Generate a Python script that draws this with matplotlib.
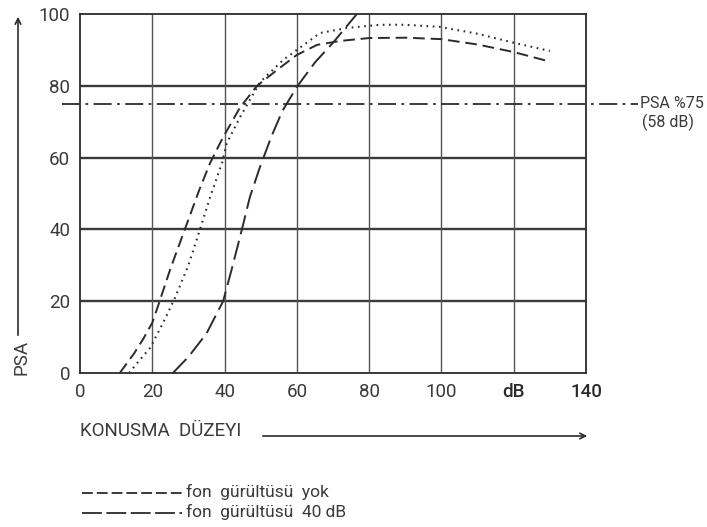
import matplotlib
matplotlib.use("Agg")
import matplotlib.pyplot as plt
from matplotlib.lines import Line2D

plt.rcParams['font.family'] = ['Roboto', 'DejaVu Sans']

# speech level (dB) vs PSA (%)
x_yok = [11, 15, 17.5, 20, 21.7, 25, 29, 33, 36, 39.6, 44.3, 49, 54.5, 60, 65.6, 72, 80, 90, 100, 110, 120, 129]
y_yok = [0, 5.5, 9.5, 14, 19, 29, 40, 51, 58.5, 65.7, 74, 80, 84.4, 88.6, 91.4, 92.5, 93.3, 93.4, 93, 91.5, 89.4, 87]

x_dot = [13.6, 16, 19.4, 20.8, 23.5, 26.3, 30, 33.2, 36, 39.3, 40.6, 44.3, 49.8, 56.2, 60, 66.4, 73.8, 83, 90, 99.6, 110, 120, 130]
y_dot = [0, 3, 7, 9.7, 15, 21, 30, 40, 49, 58.5, 64, 71.3, 81, 87.2, 90, 94.7, 96.1, 97, 97, 96.4, 94.5, 92, 89.7]

x_40 = [25.7, 30, 35, 39.6, 42, 44.8, 47, 49.8, 53, 56, 60, 65, 70, 76.6]
y_40 = [0, 4.5, 11, 20, 29, 40, 49, 57.4, 66, 73, 79.7, 86.5, 92, 100]

psa_level = 75
xticks = [0, 20, 40, 60, 80, 100, 120, 140]
xticklabels = ['0', '20', '40', '60', '80', '100', 'dB', '140']
yticks = [0, 20, 40, 60, 80, 100]

ink = '#2b2b2b'
txt = '#3a3a3a'
W, H = 707, 527

def fx(px):
    return px / W

def fy(py):
    return 1 - py / H

fig = plt.figure(figsize=(7.07, 5.27), dpi=100)
ax = fig.add_axes([fx(80), fy(373), fx(586) - fx(80), fy(14) - fy(373)])
ax.set_xlim(0, 140)
ax.set_ylim(0, 100)

# grid
for y in yticks[1:-1]:
    ax.axhline(y, color='#3a3a3a', lw=1.7, zorder=1)
for x in xticks[1:-1]:
    ax.axvline(x, color='#555555', lw=1.0, zorder=1)
for s in ax.spines.values():
    s.set_color(ink)
    s.set_linewidth(1.3)

ax.plot(x_yok, y_yok, color=ink, lw=1.4, dashes=(6, 3), zorder=3)
ax.plot(x_dot, y_dot, color=ink, lw=1.5, dashes=(0.8, 2.2), zorder=3)
ax.plot(x_40, y_40, color=ink, lw=1.4, dashes=(10, 3.5), zorder=3)

# PSA %75 line
ax.plot([-5, 154.5], [psa_level, psa_level], color=ink, lw=1.3,
        dashes=(10, 3, 1.5, 3), clip_on=False, zorder=2)
ax.text(155, psa_level, 'PSA %75', fontsize=11.5, color=txt, va='center', ha='left')
ax.text(155.5, psa_level - 5.3, '(58 dB)', fontsize=11.5, color=txt, va='center', ha='left')

ax.set_xticks(xticks)
ax.set_xticklabels(xticklabels)
ax.set_yticks(yticks)
ax.tick_params(length=0, labelsize=13.5, labelcolor=txt, pad=7)
for lbl in ax.get_xticklabels():
    if lbl.get_text() in ('dB', '140'):
        lbl.set_fontweight('medium')
        lbl.set_color(ink)

# axis titles with arrows
fig.text(fx(80), fy(431), 'KONUSMA  DÜZEYI', fontsize=13.5, color=txt, va='center', ha='left')
plt.annotate('', xy=(fx(590), fy(436)), xytext=(fx(260), fy(436)),
             xycoords='figure fraction',
             arrowprops=dict(arrowstyle='->', color=ink, lw=1.2))
fig.text(fx(22), fy(357), 'PSA', fontsize=13.5, color=txt, rotation=90, va='center', ha='center')
plt.annotate('', xy=(fx(18), fy(14)), xytext=(fx(18), fy(338)),
             xycoords='figure fraction',
             arrowprops=dict(arrowstyle='->', color=ink, lw=1.2))

# legend
fig.add_artist(Line2D([fx(82), fx(182)], [fy(493), fy(493)], color=ink, lw=1.3, dashes=(6, 2.2)))
fig.add_artist(Line2D([fx(82), fx(182)], [fy(513), fy(513)], color=ink, lw=1.3, dashes=(11, 2.5)))
fig.text(fx(186), fy(492), 'fon  gürültüsü  yok', fontsize=12.5, color=txt, va='center', ha='left')
fig.text(fx(186), fy(512), 'fon  gürültüsü  40 dB', fontsize=12.5, color=txt, va='center', ha='left')

fig.savefig('out.png', dpi=100)
